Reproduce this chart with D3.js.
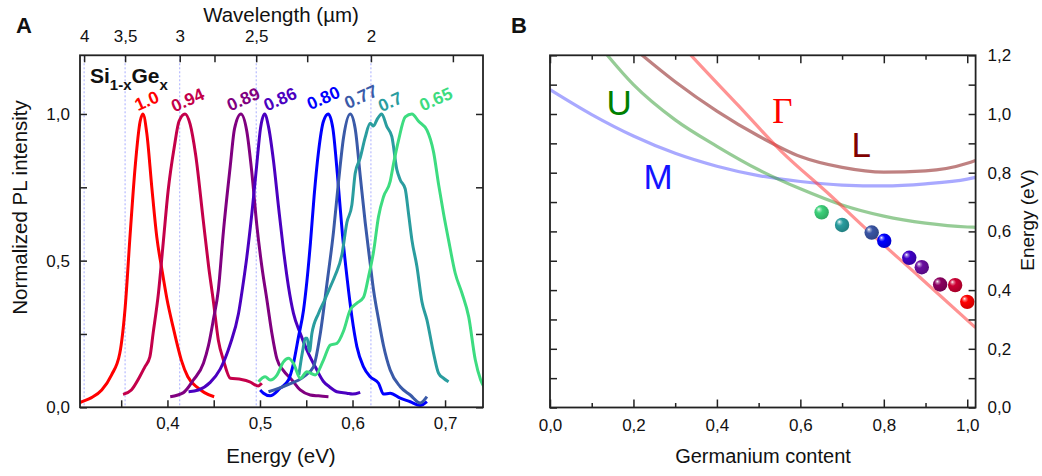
<!DOCTYPE html>
<html>
<head>
<meta charset="utf-8">
<title>SiGe photoluminescence and band gaps</title>
<style>
  body { margin: 0; background: #fff; }
  svg text { font-family: "Liberation Sans", Arial, sans-serif; fill: #111; }
  .axis path { display: none; }
  .axis line { stroke: #222; stroke-width: 1.5; }
  .axis text { font-size: 17px; fill: #111; }
  .frame { fill: none; stroke: #222; stroke-width: 1.8; }
</style>
</head>
<body>
<script src="https://cdn.jsdelivr.net/npm/d3@7"></script>
<script>
// ---- panel A: PL spectra, [energy eV, normalized intensity] ----
const compositions = ["1.0", "0.94", "0.89", "0.86", "0.80", "0.77", "0.7", "0.65"];
const plColors = ["#ff0000", "#c4004a", "#800080", "#4b00c0", "#0000ff", "#3a5aa8", "#2a9d9f", "#3ddc80"];

const pl_100 = [[0.300,0.006],[0.3053,0.016],[0.318,0.033],[0.329,0.059],[0.3395,0.11],[0.3485,0.184],[0.3543,0.34],
  [0.3597,0.59],[0.3651,0.82],[0.3705,0.975],[0.3735,1.0],[0.3777,0.934],[0.3831,0.75],[0.3885,0.58],[0.394,0.47],
  [0.3994,0.37],[0.406,0.275],[0.415,0.161],[0.422,0.104],[0.433,0.066],[0.440,0.05],[0.4505,0.036]];
const pl_094 = [[0.352,0.044],[0.361,0.059],[0.370,0.104],[0.3756,0.138],[0.381,0.172],[0.3845,0.252],[0.3903,0.39],
  [0.3954,0.56],[0.4008,0.74],[0.4075,0.89],[0.4125,0.975],[0.419,1.0],[0.4245,0.965],[0.4305,0.86],[0.4386,0.64],
  [0.4445,0.48],[0.4497,0.36],[0.455,0.229],[0.4605,0.161],[0.468,0.099],[0.480,0.095],[0.489,0.087],[0.498,0.073],[0.502,0.082]];
const pl_089 = [[0.403,0.036],[0.4173,0.05],[0.428,0.093],[0.4389,0.15],[0.4443,0.21],[0.4497,0.3],[0.455,0.4],
  [0.4605,0.6],[0.4678,0.82],[0.4725,0.95],[0.4794,1.0],[0.4858,0.94],[0.4912,0.8],[0.4966,0.62],[0.502,0.48],
  [0.5075,0.366],[0.5129,0.252],[0.5183,0.165],[0.5254,0.125],[0.5345,0.093],[0.5435,0.059],[0.5543,0.042],[0.5632,0.039],[0.574,0.036]];
const pl_086 = [[0.4228,0.053],[0.4335,0.059],[0.4462,0.085],[0.457,0.13],[0.4678,0.215],[0.4768,0.32],[0.4822,0.43],
  [0.4858,0.513],[0.4912,0.66],[0.4966,0.83],[0.5005,0.95],[0.505,1.0],[0.5092,0.957],[0.5146,0.84],[0.52,0.684],
  [0.5254,0.536],[0.5308,0.411],[0.5362,0.32],[0.5435,0.252],[0.5507,0.195],[0.5597,0.138],[0.5686,0.088],
  [0.5750,0.07],[0.5831,0.053],[0.5939,0.048],[0.600,0.045],[0.6083,0.051]];
const pl_080 = [[0.5002,0.059],[0.5038,0.048],[0.511,0.039],[0.5218,0.065],[0.5308,0.093],[0.5362,0.15],[0.5416,0.24],
  [0.547,0.33],[0.5507,0.43],[0.5545,0.56],[0.5585,0.72],[0.5632,0.87],[0.5686,0.975],[0.5738,1.0],[0.5788,0.95],
  [0.5835,0.8],[0.5890,0.593],[0.5945,0.43],[0.5993,0.309],[0.6047,0.207],[0.6119,0.138],[0.6191,0.104],[0.6281,0.082],
  [0.6335,0.045],[0.6407,0.048],[0.6516,0.031],[0.6624,0.019],[0.6732,0.006],[0.6804,0.019]];
const pl_077 = [[0.5092,0.053],[0.529,0.076],[0.547,0.104],[0.5578,0.138],[0.5651,0.25],[0.5723,0.42],[0.5795,0.6],
  [0.5849,0.77],[0.5903,0.92],[0.5975,1.0],[0.6029,0.95],[0.6083,0.79],[0.6137,0.63],[0.6191,0.49],[0.6227,0.40],
  [0.6281,0.30],[0.6335,0.21],[0.6407,0.127],[0.6516,0.07],[0.6624,0.042],[0.6732,0.015],[0.6804,0.036]];
const pl_070 = [[0.542,0.11],[0.546,0.19],[0.549,0.235],[0.551,0.235],[0.5535,0.19],[0.556,0.25],[0.5632,0.32],
  [0.5705,0.37],[0.5759,0.41],[0.5813,0.45],[0.5885,0.52],[0.5939,0.63],[0.5993,0.69],[0.6029,0.798],[0.6083,0.85],
  [0.6137,0.92],[0.6191,0.968],[0.6227,0.959],[0.6263,0.98],[0.6315,1.0],[0.6371,0.957],[0.6425,0.923],[0.6479,0.81],
  [0.6516,0.775],[0.6569,0.745],[0.6605,0.661],[0.6642,0.57],[0.6696,0.48],[0.675,0.36],[0.6804,0.298],[0.6876,0.184],
  [0.693,0.116],[0.6984,0.099],[0.7038,0.087]];
const pl_065 = [[0.4984,0.087],[0.5056,0.104],[0.511,0.093],[0.5183,0.11],[0.5254,0.155],[0.5308,0.167],[0.5362,0.15],
  [0.5435,0.099],[0.5507,0.121],[0.5597,0.11],[0.5686,0.161],[0.5759,0.212],[0.5831,0.218],[0.5903,0.26],[0.5975,0.332],
  [0.6047,0.355],[0.6119,0.375],[0.6173,0.445],[0.6227,0.53],[0.6281,0.65],[0.6335,0.718],[0.6407,0.77],[0.6443,0.83],
  [0.6497,0.91],[0.657,0.99],[0.6642,1.0],[0.6714,0.975],[0.6804,0.945],[0.6876,0.87],[0.693,0.76],[0.6984,0.66],
  [0.7038,0.57],[0.711,0.457],[0.7183,0.389],[0.7255,0.309],[0.7327,0.161],[0.7385,0.093],[0.744,0.06]];
const plSeries = [pl_100, pl_094, pl_089, pl_086, pl_080, pl_077, pl_070, pl_065];

// label anchor per spectrum, [energy, intensity]
const labelPos = [[0.3776,1.045],[0.4217,1.048],[0.482,1.051],[0.5216,1.051],[0.5684,1.055],[0.609,1.059],[0.6405,1.042],[0.690,1.051]];

// top wavelength axis (µm)
const wlTicks = [4, 3.5, 3, 2.75, 2.5, 2.25, 2, 1.75];
const wlLabels = ["4", "3,5", "3", "", "2,5", "", "2", ""];
const wlGuides = [4, 3.5, 3, 2.5, 2];
const hc = 1.2398;

// ---- panel B: band edges vs germanium content ----
const bandX = [0, 0.1, 0.2, 0.3, 0.4, 0.5, 0.6, 0.7, 0.8, 0.9, 1.0, 1.02];
const bandM = [1.083, 0.998, 0.925, 0.866, 0.822, 0.790, 0.770, 0.758, 0.755, 0.762, 0.778, 0.784];
const bandLx = [0.2, 0.3, 0.4, 0.5, 0.6, 0.7, 0.8, 0.9, 1.0, 1.02];
const bandL = [1.225, 1.11, 1.01, 0.925, 0.855, 0.818, 0.802, 0.806, 0.832, 0.842];
const bandUx = [0.12, 0.2, 0.3, 0.4, 0.5, 0.6, 0.7, 0.8, 0.9, 1.0, 1.02];
const bandU = [1.23, 1.10, 0.98, 0.89, 0.81, 0.745, 0.69, 0.652, 0.628, 0.615, 0.614];
const gammaX = [0.30, 0.3355, 0.45, 0.555, 0.671, 0.751, 0.887, 1.02];
const gammaE = [1.26, 1.204, 1.031, 0.872, 0.724, 0.617, 0.443, 0.272];

const geContent = [0.651, 0.700, 0.771, 0.801, 0.861, 0.891, 0.935, 0.971, 1.0];
const gapEnergy = [0.665, 0.622, 0.596, 0.568, 0.510, 0.478, 0.419, 0.417, 0.360];
const dotColors = ["#3dd17a", "#2a9d9f", "#3a55a5", "#0000ff", "#4000c8", "#6a0ea0", "#8b0060", "#cc0033", "#ff0000"];

const fmt = d => d3.format(".1f")(d).replace(".", ",");
const isTenth = d => Math.abs(d * 10 - Math.round(d * 10)) < 1e-6;
const isFifth = d => Math.abs(d * 5 - Math.round(d * 5)) < 1e-6;

const svg = d3.select("body").append("svg")
  .attr("width", 1042)
  .attr("height", 476);
const defs = svg.append("defs");

// ================= Panel A =================
const xA = d3.scaleLinear().domain([0.3055, 0.741]).range([80, 483]);
const yA = d3.scaleLinear().domain([0, 1.2]).range([407.3, 55.3]);

defs.append("clipPath").attr("id", "clipA")
  .append("rect").attr("x", 80).attr("y", 55.3).attr("width", 403).attr("height", 352);

const gA = svg.append("g");

gA.selectAll(".guide")
  .data(wlGuides)
  .enter()
  .append("line")
  .attr("x1", d => xA(hc / d)).attr("x2", d => xA(hc / d))
  .attr("y1", yA(1.2)).attr("y2", yA(0))
  .attr("stroke", "#a8adff")
  .attr("stroke-width", 1)
  .attr("stroke-dasharray", "2,2");

const lineA = d3.line()
  .x(d => xA(d[0]))
  .y(d => yA(d[1]))
  .curve(d3.curveMonotoneX);

gA.append("g").attr("clip-path", "url(#clipA)")
  .selectAll("path")
  .data(plSeries)
  .enter()
  .append("path")
  .attr("d", lineA)
  .attr("fill", "none")
  .attr("stroke", (d, i) => plColors[i])
  .attr("stroke-width", 3)
  .attr("stroke-linejoin", "round");

gA.selectAll(".comp")
  .data(compositions)
  .enter()
  .append("text")
  .attr("transform", (d, i) => `translate(${xA(labelPos[i][0])},${yA(labelPos[i][1])}) rotate(-24)`)
  .attr("text-anchor", "middle")
  .attr("dy", "0.35em")
  .style("font-size", "17.5px")
  .style("font-weight", "bold")
  .style("fill", (d, i) => plColors[i])
  .text(d => d);

const sige = gA.append("text")
  .attr("x", 90).attr("y", 83)
  .style("font-weight", "bold")
  .style("font-size", "21px");
sige.append("tspan").text("Si");
sige.append("tspan").attr("dy", 6.5).style("font-size", "15px").text("1-x");
sige.append("tspan").attr("dy", -6.5).text("Ge");
sige.append("tspan").attr("dy", 6.5).style("font-size", "15px").text("x");

// axes A
gA.append("g").attr("class", "axis")
  .attr("transform", "translate(0,407.3)")
  .call(d3.axisBottom(xA)
    .tickValues(d3.range(7, 15).map(k => k * 0.05))
    .tickSize(-7).tickPadding(10)
    .tickFormat(d => isTenth(d) ? fmt(d) : ""));

gA.append("g").attr("class", "axis")
  .attr("transform", "translate(0,55.3)")
  .call(d3.axisTop(xA)
    .tickValues(wlTicks.map(l => hc / l))
    .tickSize(-7).tickPadding(13)
    .tickFormat((d, i) => wlLabels[i]));

gA.append("g").attr("class", "axis")
  .attr("transform", "translate(80,0)")
  .call(d3.axisLeft(yA)
    .tickValues([0, 0.25, 0.5, 0.75, 1])
    .tickSize(-7).tickPadding(10)
    .tickFormat(d => (d === 0 || d === 0.5 || d === 1) ? fmt(d) : ""));

gA.append("g").attr("class", "axis")
  .attr("transform", "translate(483,0)")
  .call(d3.axisRight(yA)
    .tickValues([0, 0.25, 0.5, 0.75, 1])
    .tickSize(-7)
    .tickFormat(""));

gA.append("rect").attr("class", "frame")
  .attr("x", 80).attr("y", 55.3).attr("width", 403).attr("height", 352);

gA.append("text")
  .attr("x", 281).attr("y", 462.5)
  .attr("text-anchor", "middle")
  .style("font-size", "20.5px")
  .text("Energy (eV)");

gA.append("text")
  .attr("x", 281).attr("y", 21.5)
  .attr("text-anchor", "middle")
  .style("font-size", "20.5px")
  .text("Wavelength (\u00b5m)");

gA.append("text")
  .attr("transform", "translate(26.5,207.5) rotate(-90)")
  .attr("text-anchor", "middle")
  .style("font-size", "20.5px")
  .text("Normalized PL intensity");

svg.append("text")
  .attr("x", 16).attr("y", 33)
  .style("font-size", "22px").style("font-weight", "bold")
  .text("A");

// ================= Panel B =================
const xB = d3.scaleLinear().domain([0, 1.02]).range([550, 975.6]);
const yB = d3.scaleLinear().domain([0, 1.2]).range([407.5, 55.3]);

defs.append("clipPath").attr("id", "clipB")
  .append("rect").attr("x", 550).attr("y", 55.3).attr("width", 425.6).attr("height", 352.2);

const gB = svg.append("g");
const lineB = d3.line()
  .x(d => xB(d[0]))
  .y(d => yB(d[1]))
  .curve(d3.curveMonotoneX);

const bands = [
  { pts: bandX.map((x, i) => [x, bandM[i]]), color: "#6f6fff", op: 0.6 },
  { pts: bandUx.map((x, i) => [x, bandU[i]]), color: "#2e9a2e", op: 0.5 },
  { pts: bandLx.map((x, i) => [x, bandL[i]]), color: "#8b1a1a", op: 0.55 },
  { pts: gammaX.map((x, i) => [x, gammaE[i]]), color: "#ff3a3a", op: 0.55 }
];

gB.append("g").attr("clip-path", "url(#clipB)")
  .selectAll("path")
  .data(bands)
  .enter()
  .append("path")
  .attr("d", d => lineB(d.pts))
  .attr("fill", "none")
  .attr("stroke", d => d.color)
  .attr("stroke-opacity", d => d.op)
  .attr("stroke-width", 3.2);

// sphere-like markers
dotColors.forEach((c, i) => {
  const grad = defs.append("radialGradient")
    .attr("id", "dot" + i)
    .attr("cx", "40%").attr("cy", "40%").attr("r", "62%")
    .attr("fx", "30%").attr("fy", "28%");
  grad.append("stop").attr("offset", "0%").attr("stop-color", "#ffffff");
  grad.append("stop").attr("offset", "16%").attr("stop-color", d3.interpolateRgb(c, "#ffffff")(0.45));
  grad.append("stop").attr("offset", "38%").attr("stop-color", c);
  grad.append("stop").attr("offset", "100%").attr("stop-color", d3.color(c).darker(0.6));
});

gB.selectAll(".dot")
  .data(geContent)
  .enter()
  .append("circle")
  .attr("cx", d => xB(d))
  .attr("cy", (d, i) => yB(gapEnergy[i]))
  .attr("r", 7.2)
  .attr("fill", (d, i) => `url(#dot${i})`);

// band labels
const bandLabels = [
  { t: "U", x: 0.166, y: 0.997, c: "#008000", f: "Liberation Sans, Arial, sans-serif" },
  { t: "M", x: 0.259, y: 0.745, c: "#1414ff", f: "Liberation Sans, Arial, sans-serif" },
  { t: "\u0393", x: 0.557, y: 0.968, c: "#ff0000", f: "Liberation Serif, Times New Roman, serif" },
  { t: "L", x: 0.746, y: 0.855, c: "#800000", f: "Liberation Sans, Arial, sans-serif" }
];
gB.selectAll(".blab")
  .data(bandLabels)
  .enter()
  .append("text")
  .attr("x", d => xB(d.x))
  .attr("y", d => yB(d.y))
  .attr("text-anchor", "middle")
  .style("font-size", "35px")
  .style("font-family", d => d.f)
  .style("fill", d => d.c)
  .text(d => d.t);

// axes B
const xMajor = d3.range(0, 6).map(k => k * 0.2);
const xMinor = d3.range(0, 5).map(k => k * 0.2 + 0.1);
const yTicks = d3.range(0, 13).map(k => k * 0.1);

gB.append("g").attr("class", "axis")
  .attr("transform", "translate(0,407.5)")
  .call(d3.axisBottom(xB).tickValues(xMajor).tickSize(-8).tickPadding(11).tickFormat(fmt));
gB.append("g").attr("class", "axis")
  .attr("transform", "translate(0,407.5)")
  .call(d3.axisBottom(xB).tickValues(xMinor).tickSize(-4.5).tickFormat(""));
gB.append("g").attr("class", "axis")
  .attr("transform", "translate(0,55.3)")
  .call(d3.axisTop(xB).tickValues(xMajor).tickSize(-8).tickFormat(""));
gB.append("g").attr("class", "axis")
  .attr("transform", "translate(0,55.3)")
  .call(d3.axisTop(xB).tickValues(xMinor).tickSize(-4.5).tickFormat(""));

gB.append("g").attr("class", "axis")
  .attr("transform", "translate(550,0)")
  .call(d3.axisLeft(yB).tickValues(yTicks).tickSize(-7).tickFormat(""));
gB.append("g").attr("class", "axis")
  .attr("transform", "translate(975.6,0)")
  .call(d3.axisRight(yB).tickValues(yTicks).tickSize(-7).tickPadding(12)
    .tickFormat(d => isFifth(d) ? fmt(d) : ""));

gB.append("rect").attr("class", "frame")
  .attr("x", 550).attr("y", 55.3).attr("width", 425.6).attr("height", 352.2);

gB.append("text")
  .attr("x", 763).attr("y", 463.3)
  .attr("text-anchor", "middle")
  .style("font-size", "20px")
  .text("Germanium content");

gB.append("text")
  .attr("transform", "translate(1034,220) rotate(-90)")
  .attr("text-anchor", "middle")
  .style("font-size", "19px")
  .text("Energy (eV)");

svg.append("text")
  .attr("x", 511).attr("y", 33)
  .style("font-size", "22px").style("font-weight", "bold")
  .text("B");
</script>
</body>
</html>
